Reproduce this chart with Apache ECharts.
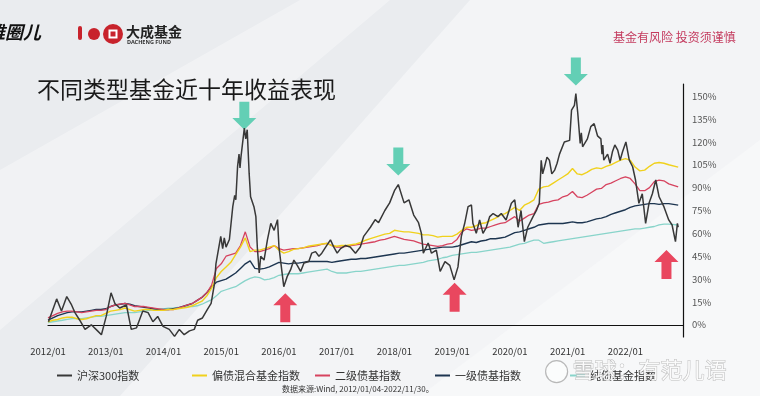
<!DOCTYPE html>
<html><head><meta charset="utf-8">
<script src="https://cdn.jsdelivr.net/npm/echarts@6/dist/echarts.min.js"></script>
<style>html,body{margin:0;padding:0;}#c{width:760px;height:396px;}</style>
</head><body><div id="c"></div>
<script>
// ---------- DATA ----------
const seriesNames = ['沪深300指数', '偏债混合基金指数', '二级债基指数', '一级债基指数', '纯债基金指数'];
const xTickLabels = ['2012/01','2013/01','2014/01','2015/01','2016/01','2017/01','2018/01','2019/01','2020/01','2021/01','2022/01'];
const yTickValues = [0,15,30,45,60,75,90,105,120,135,150];

const csiDates = ['2012-01-04','2012-02-25','2012-03-25','2012-04-28','2012-05-28','2012-06-19','2012-07-19','2012-08-22','2012-10-01','2012-11-10','2012-12-04',
'2013-01-04','2013-02-04','2013-02-28','2013-03-28','2013-05-10','2013-06-10','2013-07-13','2013-08-22','2013-09-25','2013-10-25','2013-11-25','2013-12-28',
'2014-02-07','2014-03-10','2014-04-10','2014-05-10','2014-06-13','2014-07-13','2014-08-04','2014-09-04','2014-10-04','2014-10-28','2014-11-19','2014-11-28','2014-12-28',
'2015-01-10','2015-01-20','2015-02-01','2015-02-22','2015-03-13','2015-03-25','2015-04-02','2015-04-13','2015-04-22','2015-04-28','2015-05-04','2015-05-25','2015-06-04','2015-06-13','2015-06-25','2015-07-04','2015-07-25','2015-08-07','2015-08-16','2015-08-28','2015-09-07','2015-09-28','2015-10-19','2015-11-10','2015-12-01','2015-12-22',
'2016-01-01','2016-01-13','2016-02-01','2016-02-22','2016-03-13','2016-04-04','2016-04-25','2016-05-16','2016-06-07','2016-07-07','2016-07-25','2016-08-19','2016-09-10','2016-09-28','2016-10-22','2016-11-22','2016-12-13',
'2017-01-04','2017-01-25','2017-02-25','2017-03-25','2017-04-28','2017-05-28','2017-06-19','2017-07-10','2017-08-01','2017-09-01','2017-09-22','2017-11-01','2017-12-01',
'2018-01-01','2018-01-25','2018-03-01','2018-04-01','2018-05-01','2018-06-01','2018-06-19','2018-07-01','2018-08-01','2018-08-22','2018-09-22','2018-10-16','2018-11-16','2018-12-16',
'2019-01-13','2019-02-07','2019-02-28','2019-03-19','2019-04-10','2019-05-01','2019-05-10','2019-06-01','2019-06-22','2019-07-13','2019-08-04','2019-08-25','2019-09-16','2019-10-16','2019-11-07','2019-12-07',
'2020-01-10','2020-02-01','2020-02-22','2020-03-10','2020-04-01','2020-04-22','2020-05-25','2020-06-16','2020-07-04','2020-07-16','2020-07-25','2020-08-07','2020-08-22','2020-09-07','2020-09-22','2020-10-10','2020-10-25','2020-11-10','2020-12-10',
'2021-01-13','2021-01-25','2021-02-13','2021-02-22','2021-03-04','2021-03-19','2021-03-26','2021-04-04','2021-05-04','2021-05-25','2021-06-16','2021-07-07','2021-07-28','2021-08-05','2021-08-10','2021-08-16','2021-09-10','2021-09-25','2021-10-10','2021-10-25','2021-11-13','2021-11-28','2021-12-13',
'2022-01-04','2022-01-25','2022-02-16','2022-03-04','2022-03-25','2022-04-16','2022-05-07','2022-05-28','2022-06-19','2022-07-10','2022-08-01','2022-09-01','2022-10-01','2022-10-22','2022-11-13','2022-11-25','2022-11-30'];
const csiValues = [2,17,9,18.5,13,8,3,-3,0,-4,-6.5,
5.5,21,14,11,13,-3,-2,9,8,2,5.5,-1,
-3,-7.6,-3,-6.5,-4,-3,3,4.5,10,14,27,40,58,
50,57,51,56,77.5,85,82,104,112,103,110,129,122,128,99.5,84,77.5,71,51,34,45,42.5,55.7,66.6,62,69,
51,40.5,25,31.6,36,42.5,39,35,40.5,41.5,47,48,45,47,51,55.7,51,
47,50,52,51,47,51,58,61,64,69,67,75,80,
88,92,80,82,72,67,60,47,53.7,47,49,35,41.5,39,
29.5,38,58,66.6,77.5,78.6,66.6,60,68.8,60,64,71,73,71,73,68.8,
79.7,82,64,75,54.6,64,71,75,79.7,108,99,103.7,110,108,99,101.5,106,112,120,
121,140.8,144,151.7,138.8,119,126,116.8,122,130,132,124,122,112,118,108,112,106,113.5,118,114.6,108,113.5,
120,108,103.7,95,79.7,86,66.6,79.7,86,95,84,77.5,68.8,65.5,54.6,66.6,64];

// monthly series, Jan 2012 .. Nov 2022 (last point = 2022/11/30)
const mixedBondValues = [2,3,3.5,4.5,5,5,4,3.5,4,5,6,6,
7.5,9,9.5,10,11,10,9,9.5,10,10,9.5,9.5,
9.5,10,10,10.5,11,11.5,12.5,14,15.5,19,24,31,
35,38,41,46,51,57,48,49,49,50,51,52,
49,47,48,49.5,50,50.5,51.5,52,52.5,53,53.5,52,
51.5,52,52,52.5,53,54,55.5,56.5,57.5,58.5,59.5,60,
62,61.5,61,61,60.5,60,59,59,58.5,57.5,58,58,
58,59.5,62,64,64,65,66.5,67,68.5,70,72,73,
75,77,75,78.5,80,82,89,90.5,91,93,95,97,
99,102.5,99,98.5,100,102,103,102.5,104,105,106.5,108,
109,108,103.5,101,101.5,104,106,106.5,106,105,103.5];
const secondaryBondValues = [4.5,6,7.5,8.5,9,9,8.5,8,8.5,9,9.5,9.5,
10,12,13,13.5,14,13,12,12,12,11.5,11,10.5,
10,10,10,11,12,13,14,16,18,21,26,37,
40,45,46,47,52,61,51,48,48,49,50,52,
50,49,49.5,50,50,50.5,51,51.5,52,53,53.5,52,
51,51,51.5,52,52.5,53,53.5,54,54.5,55.5,56,57,
58,57,56,55.5,55,54,53,52.5,52,51.5,52,53,
53.5,56,61,63,62,62.5,63.5,63.5,64.5,65.5,66.5,67,
69,71,68,70,72,73,79,80,80.5,81.5,82,84,
85,87.5,84,83.5,85,87,89,89.5,92,93,94.5,96,
97,96,92.5,88,88,90,94,95,94.5,92.5,90.5];
const primaryBondValues = [3,4.5,6,7,8,8.5,8.5,8.5,9,9.5,10,10,
10.5,12,13,13.5,14,13.5,12.5,12,11.5,11,10.5,10,
10,10,10.5,11,12,13,14,16,18,21,25,28,
29,30,32,34,37,40,42,37,36.5,37,38,39.5,
41,40.5,40,40.5,40.5,41,41.5,41.5,41.5,41.5,41.5,41,
41.5,42,42.5,43,43,43.5,43.5,44,44.5,45,45.5,46,
46.5,47,47,47.5,48,48.5,49,49.5,50,50.5,51,51,
51,51.5,52.5,53.5,54.5,54,55,55.5,56.5,56.5,57,57.5,
59,60.5,61,62,63,64,65.5,66,66.5,66.5,66.5,66.5,
67,67.5,67,67,67.5,68.5,69.5,70,71,72.5,73.5,74.5,
75.5,77,78,78.5,79,79.5,79.5,79,79.5,79.5,78.5];
const pureBondValues = [1.5,2,2.5,3,3.5,4,4,4,4.5,5,5.5,5.5,
6,6.5,7,7.5,8,8,8,8.5,9,9.5,10,10,
10.5,11,11,11.5,11.5,12,12,12.5,13.5,15,16.5,19,
22,23,24,25,27,29,30.5,31.5,31,29.5,30,31,
32.5,33,33.5,33.5,33.5,34,34.5,35,35.5,36,36.5,35,
34,34,34,34.5,35,35,35.5,36,36.5,37,37.5,38,
38.5,39,39,39.5,40,40.5,41,42,42.5,43,44,44.5,
45.5,46,46.5,47,47.5,47.5,48,48.5,49,49.5,50,50.5,
51,52,53,53.5,54.5,55.5,55.5,53.5,54,54.5,55,55.5,
56,56.5,57,57.5,58,58.5,59,59.5,60,60.5,61,61.5,
62,62.5,63,63,63.5,64,64.5,65.5,66,66,65.5];

// annotation anchors (dates on the CSI300 line)
const peakDates = ['2015-05-25','2018-01-25','2021-02-22'];
const troughDates = ['2016-02-01','2019-01-13','2022-11-13'];

// ---------- HELPERS ----------
function toYear(s){const p=s.split('-').map(Number);return p[0]+(p[1]-1)/12+(p[2]-1)/360;}
const monthDates=[];
for(let y=2012;y<=2022;y++){for(let m=1;m<=12;m++){if(y===2022&&m>11)break;monthDates.push(`${y}-${String(m).padStart(2,'0')}-01`);}}
monthDates[monthDates.length-1]='2022-11-30';
const zipM=(vals)=>vals.map((v,i)=>[toYear(monthDates[i]),v]);
const csiData=csiValues.map((v,i)=>[toYear(csiDates[i]),v]);

const peakOffsets=[[0,-12.5],[0,-23],[0,-22]];
const troughOffsets=[[1.5,21],[0.5,17.5],[-9,23]];
const downArrow='path://M7,0 L17,0 L17,17 L24,17 L12,29 L0,17 L7,17 Z';
const upArrow='path://M12,0 L24,12 L17,12 L17,29 L7,29 L7,12 L0,12 Z';
const markData=[];
peakDates.forEach((d,i)=>{const k=csiDates.indexOf(d);markData.push({coord:[toYear(d),csiValues[k]],symbol:downArrow,symbolSize:[24,28],symbolOffset:peakOffsets[i],itemStyle:{color:'#63cfb5'}});});
troughDates.forEach((d,i)=>{const k=csiDates.indexOf(d);markData.push({coord:[toYear(d),csiValues[k]],symbol:upArrow,symbolSize:[24,29],symbolOffset:troughOffsets[i],itemStyle:{color:'#e9475f'}});});

const colors=['#383838','#f0d11c','#d6435f','#1d3550','#88d4ca'];
const widths=[1.5,1.4,1.3,1.4,1.3];
const legendLefts=[52,187,310,430,565];

const chart=echarts.init(document.getElementById('c'),null,{renderer:'canvas'});
const font='"Noto Sans CJK SC","Noto Sans",sans-serif';
chart.setOption({
  backgroundColor:'#eaecef',
  textStyle:{fontFamily:font},
  animation:false,
  graphic:[
    {type:'polygon',silent:true,z:-10,shape:{points:[[120,396],[470,0],[760,0],[760,396]]},style:{fill:'rgba(255,255,255,0.45)'}},
    {type:'polygon',silent:true,z:-10,shape:{points:[[0,170],[300,0],[390,0],[0,330]]},style:{fill:'rgba(255,255,255,0.35)'}},
    {type:'polygon',silent:true,z:-10,shape:{points:[[420,396],[760,140],[760,396]]},style:{fill:'rgba(255,255,255,0.35)'}},
    {type:'text',left:-13,top:23,style:{text:'维圈儿',font:'italic bold 18px "Noto Sans CJK SC"',fill:'#111'}},
    {type:'rect',left:78,top:26,shape:{width:4,height:14,r:2},style:{fill:'#c8232c'}},
    {type:'circle',shape:{cx:94,cy:34,r:6},style:{fill:'#c8232c'}},
    {type:'circle',left:103,top:24,shape:{r:10},style:{fill:'#c8232c'}},
    {type:'rect',left:108.5,top:29.5,shape:{width:9,height:9},style:{fill:'#fff'}},
    {type:'rect',left:110.5,top:31.5,shape:{width:5,height:5},style:{fill:'#c8232c'}},
    {type:'text',left:126,top:25,style:{text:'大成基金',font:'bold 14px "Noto Sans CJK SC"',fill:'#222'}},
    {type:'text',left:127,top:39,style:{text:'DACHENG FUND',font:'bold 5.5px "Noto Sans"',fill:'#333'}},
    {type:'text',left:613,top:31,style:{text:'基金有风险 投资须谨慎',font:'12px "Noto Sans CJK SC"',fill:'#c43a5e'}},
    {type:'text',left:37,top:78,style:{text:'不同类型基金近十年收益表现',font:'23px "Noto Sans CJK SC"',fill:'#1a1a1a'}},
    {type:'text',left:282,top:385,style:{text:'数据来源:Wind, 2012/01/04-2022/11/30。',font:'8px "Noto Sans CJK SC"',fill:'#333'}},
    {type:'circle',left:545,top:360,z:100,shape:{r:11},style:{fill:'rgba(255,255,255,0.55)',stroke:'rgba(140,140,140,0.6)',lineWidth:1.2}},
    {type:'text',left:572,top:358,z:100,style:{text:'雪球：有范儿语',font:'22px "Noto Sans CJK SC"',fill:'rgba(255,255,255,0.85)',stroke:'rgba(130,130,130,0.5)',lineWidth:1}}
  ],
  legend:seriesNames.map((n,i)=>({data:[n],left:legendLefts[i],top:365,icon:'rect',itemWidth:15,itemHeight:2,textStyle:{fontSize:11,color:'#333'},selectedMode:false})),
  grid:{left:48,right:77,top:84,height:253},
  xAxis:{type:'value',min:2012,max:2022+11/12+29/360,
    axisLine:{show:true,lineStyle:{color:'#111',width:1.2}},axisTick:{show:false},splitLine:{show:false},
    axisLabel:{customValues:xTickLabels.map(s=>Number(s.slice(0,4))),formatter:v=>`${Math.round(v)}/01`,color:'#333',fontSize:9.5,margin:10}},
  yAxis:{type:'value',position:'right',min:-8,max:158,
    axisLine:{show:true,lineStyle:{color:'#111',width:1.2}},axisTick:{show:false},splitLine:{show:false},
    axisLabel:{customValues:yTickValues,formatter:'{value}%',color:'#555',fontSize:9.5,margin:9}},
  series:[
    {name:seriesNames[4],type:'line',symbol:'none',data:zipM(pureBondValues),lineStyle:{color:colors[4],width:widths[4]},itemStyle:{color:colors[4]},z:2},
    {name:seriesNames[3],type:'line',symbol:'none',data:zipM(primaryBondValues),lineStyle:{color:colors[3],width:widths[3]},itemStyle:{color:colors[3]},z:3},
    {name:seriesNames[2],type:'line',symbol:'none',data:zipM(secondaryBondValues),lineStyle:{color:colors[2],width:widths[2]},itemStyle:{color:colors[2]},z:4},
    {name:seriesNames[1],type:'line',symbol:'none',data:zipM(mixedBondValues),lineStyle:{color:colors[1],width:widths[1]},itemStyle:{color:colors[1]},z:5},
    {name:seriesNames[0],type:'line',symbol:'none',data:csiData,lineStyle:{color:colors[0],width:widths[0]},itemStyle:{color:colors[0]},z:6,
      markPoint:{silent:true,label:{show:false},data:markData}}
  ]
});
</script></body></html>
